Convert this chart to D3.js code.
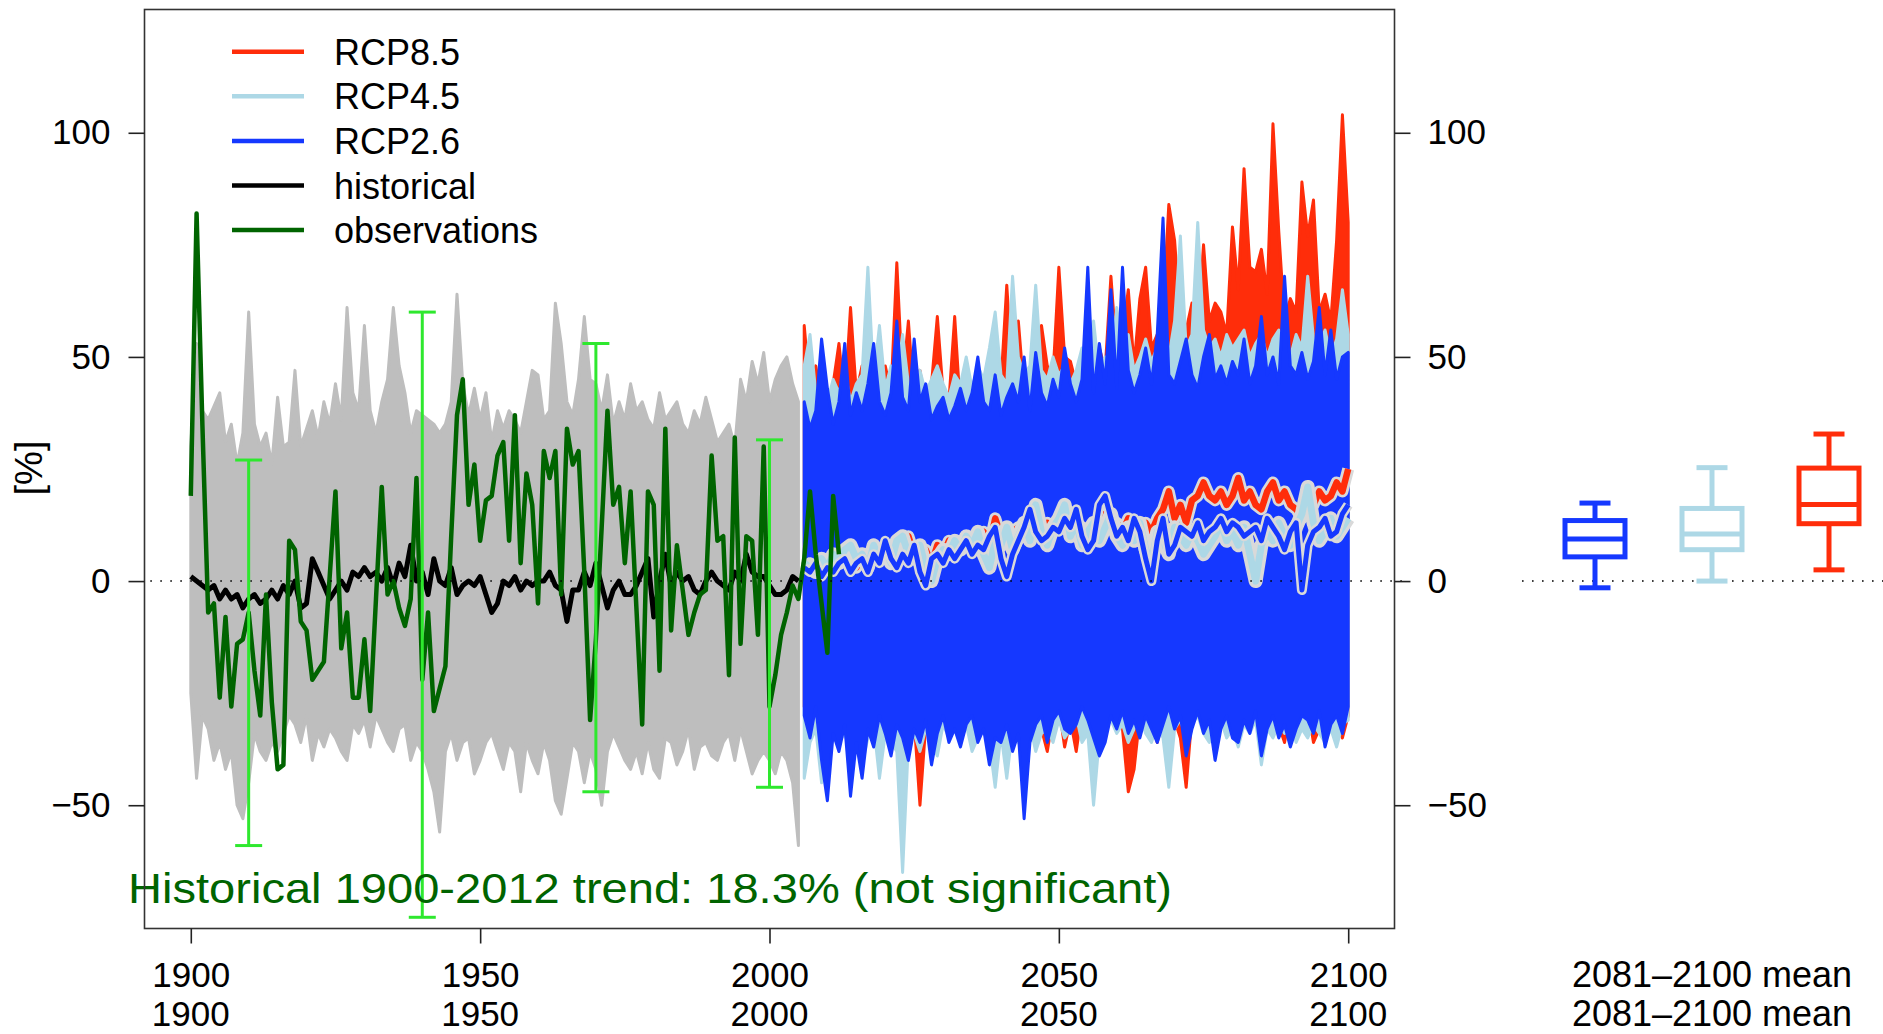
<!DOCTYPE html>
<html><head><meta charset="utf-8">
<script src="https://cdn.jsdelivr.net/npm/d3@7"></script>
<style>
body{margin:0;background:#fff}
svg{display:block}
text{font-family:"Liberation Sans",Arial,Helvetica,sans-serif}
</style>
</head><body>
<svg id="chart" width="1883" height="1034"></svg>
<script>
// ---------------- DATA ----------------
const histStart = 1900;   // historical ensemble 1900-2005
const histMax = [30,53,38,36,39,42,31,35,26,33, 60,35,30,33,26,41,30,31,47,30, 34,38,32,40,35,44,36,61,42,38,
  57,38,33,40,45,61,48,42,33,38, 37,36,35,33,35,40,64,44,37,43, 36,42,31,38,34,38,36,33,40,47,
  46,36,38,62,53,40,37,45,59,45, 44,38,46,35,40,36,44,38,40,36, 34,42,36,38,40,35,33,38,35,41,
  36,31,33,35,30,45,40,49,44,51, 40,45,48,50,44,40];
const histMin = [-25,-44,-30,-33,-40,-36,-42,-38,-50,-53, -45,-34,-38,-40,-36,-38,-34,-30,-32,-36,
  -30,-40,-34,-37,-33,-35,-38,-40,-32,-34, -31,-37,-30,-33,-36,-38,-33,-32,-40,-36,
  -38,-42,-47,-56,-38,-34,-40,-36,-35,-43, -40,-36,-34,-38,-42,-36,-38,-47,-36,-40,
  -43,-36,-40,-49,-52,-44,-36,-38,-45,-38, -42,-50,-38,-34,-37,-40,-42,-38,-43,-36,
  -42,-44,-35,-36,-41,-38,-33,-42,-37,-36, -39,-40,-36,-34,-40,-33,-38,-43,-40,-38, -40,-43,-38,-40,-45,-59];
const histMean = [1,0,-1,-2,-1,-4,-2,-4,-3,-6, -4,-3,-5,-4,-2,-4,-1,-3,0,-6, -5,5,2,-1,-4,-2,0,-2,2,1,
  3,1,2,0,3,-1,4,1,8,0, 2,-3,5,0,-1,3,-3,-1,0,-1, 1,-3,-7,-5,0,-1,1,-2,0,-1,
  0,0,2,-1,-2,-9,-2,-2,2,-1, 4,-1,-6,-2,0,-3,-3,-1,2,5, -8,0,6,-1,2,0,1,-2,-3,0,
  2,0,-1,-2,2,0,6,2,1,1, -1,-3,-3,-2,1,0];

const obsStart = 1900;    // observations 1900-2012
const obsValues = [19,82,35,-7,-5,-26,-8,-28,-14,-13, -7,-20,-30,-3,-27,-42,-41,9,7,-9,
  -11,-22,-20,-18,1,20,-15,-7,-26,-26, -13,-29,-4,21,-3,0,-6,-10,-4,23,
  -22,-7,-29,-24,-19,10,37,45,17,26, 9,18,19,28,31,9,37,4,24,17,
  -5,29,23,29,-3,34,26,29,2,-31, -13,12,38,17,21,4,20,-6,-32,20,
  17,-20,34,-11,8,-2,-12,-7,-3,-2, 28,9,10,-21,32,-14,10,9,-12,30,
  -28,-21,-12,-7,-1,-4,5,20,6,-5, -16,19,6];

const errYears = [1910, 1940, 1970, 2000];
const errLow = [-59, -75, -47, -46];
const errHigh = [27, 60, 53, 31.5];

const projStart = 2006;   // scenario projections 2006-2100
const rcp85Max = [57,42,48,40, 36,44,53,40,61,42,48,38,45,40, 48,42,71,44,58,40,47,38,44,59,
  42,40,59,38,45,40,44,43,46,52, 44,66,45,58,42,47,44,57,48,46, 70,50,49,44,46,48,45,52,47,68,
  50,55,65,48,63,70,52,55,60,84, 76,58,56,62,55,75,58,62,60,55, 79,65,92,70,69,74,64,102,78,58,
  63,60,89,77,85,60,64,58,76,104, 80];
const rcp85Min = [-28,-30,-26,-33, -30,-35,-30,-28,-33,-30,-32,-29,-31,-27, -30,-33,-28,-30,-35,-31,-50,-32,-30,-28,
  -31,-33,-29,-30,-28,-31,-29,-30,-31,-28, -30,-27,-32,-29,-31,-28,-30,-33,-38,-30, -28,-37,-31,-38,-29,-30,-32,-28,-31,-29,
  -30,-33,-47,-42,-30,-32,-29,-36,-30,-28, -31,-35,-46,-30,-28,-31,-29,-32,-30,-27, -30,-29,-31,-28,-30,-31,-28,-30,-32,-36,
  -29,-30,-31,-28,-36,-33,-30,-29,-31,-35, -30];
const rcp45Max = [48,55,42,44, 40,45,42,47,40,44,46,70,45,57, 43,48,45,55,44,40,47,42,45,48,
  44,41,46,44,50,43,48,45,52,60, 46,44,68,50,46,48,66,47,45,50, 46,48,44,47,52,50,58,46,50,48,
  61,52,55,47,50,54,49,52,56,50, 58,77,52,55,80,56,52,54,50,55, 52,54,56,50,53,55,50,54,56,52,
  50,55,52,68,54,52,56,50,54,65, 55];
const rcp45Min = [-44,-36,-33,-45, -35,-32,-36,-34,-38,-33,-41,-35,-32,-44, -34,-36,-38,-65,-36,-34,-38,-33,-36,-39,
  -32,-35,-33,-36,-32,-38,-35,-33,-36,-46, -34,-44,-33,-36,-35,-32,-38,-34,-33,-36, -31,-35,-33,-30,-36,-34,-50,-35,-33,-31,
  -34,-32,-36,-33,-30,-34,-36,-32,-35,-46, -33,-31,-35,-32,-30,-34,-36,-33,-31,-35, -33,-37,-32,-34,-31,-41,-33,-35,-32,-34,
  -31,-36,-33,-35,-32,-34,-36,-33,-37,-32, -31];
const rcp26Max = [40,34,38,54, 43,35,40,53,37,42,38,44,53,40, 37,42,58,41,38,54,40,44,36,39,
  41,36,39,43,38,42,50,40,38,46, 37,41,44,40,50,38,51,42,39,45, 41,52,44,40,45,70,42,53,44,65,
  43,70,47,42,46,52,44,55,81,46, 44,49,54,46,43,50,55,45,48,44, 49,46,54,44,48,59,46,50,44,68,
  48,46,51,45,49,61,46,56,45,50, 51];
const rcp26Min = [-30,-35,-28,-40, -49,-34,-38,-32,-48,-36,-44,-33,-37,-30, -34,-39,-32,-35,-40,-33,-36,-31,-41,-34,
  -30,-36,-33,-37,-32,-30,-36,-33,-41,-35, -36,-32,-38,-34,-53,-36,-32,-30,-36,-31, -29,-33,-34,-32,-28,-31,-35,-39,-36,-30,
  -33,-29,-34,-31,-35,-30,-33,-36,-32,-28, -33,-30,-39,-33,-29,-34,-31,-40,-33,-30, -35,-36,-31,-34,-29,-39,-33,-30,-35,-32,
  -37,-33,-30,-31,-34,-29,-37,-32,-30,-34, -28];
const rcp85Mean = [3,4,2,5, 3,5,4,7,5,3,6,4,7,5, 8,6,5,7,10,6,5,7,4,8, 6,9,7,8,10,7,9,11,8,14,
  10,9,11,12,10,13,11,10,13,11, 12,14,11,13,12,10,13,12,15,12, 13,11,14,12,10,13,11,14,16,20,
  14,17,13,18,19,22,19,18,20,17, 19,23,18,20,17,16,20,22,18,20, 17,16,14,18,17,20,18,19,22,20, 25];
const rcp45Mean = [4,3,2,5, 3,6,4,7,8,5,6,3,8,5, 7,4,9,10,6,5,8,3,0,5, 7,6,9,7,10,8,11,6,3,9,
  8,12,7,10,13,9,17,11,8,12, 14,17,10,13,8,11,13,9,12,15, 10,8,12,9,13,7,4,11,9,6,
  12,10,8,11,9,6,8,10,13,9, 11,8,12,6,0,8,11,9,13,10, 8,12,15,21,13,9,11,14,10,12, 14];
const rcp26Mean = [3,2,4,1, 3,2,4,5,2,4,5,2,6,4, 9,5,3,6,4,8,2,-1,5,6, 4,7,5,7,9,6,8,7,10,12,
  5,1,6,9,12,16,11,9,10,12, 11,14,12,16,10,7,9,17,19,14, 10,12,9,14,11,5,0,9,14,6,
  8,12,11,10,13,9,11,12,14,11, 13,12,10,11,12,9,14,12,10,7, 11,13,-2,8,11,12,14,10,11,15, 17];

// 2081-2100 mean box plots
const scenarios = ["RCP2.6", "RCP4.5", "RCP8.5"];
const boxLow  = [-1.5, 0, 2.5];
const boxQ1   = [5.4, 7.0, 12.8];
const boxMed  = [9.4, 10.5, 17.1];
const boxQ3   = [13.5, 16.2, 25.2];
const boxHigh = [17.4, 25.3, 32.8];

const xTicks = [1900, 1950, 2000, 2050, 2100];
const yTicks = [-50, 0, 50, 100];
const legendLabels = ["RCP8.5", "RCP4.5", "RCP2.6", "historical", "observations"];
const trendLabel = "Historical 1900-2012 trend: 18.3% (not significant)";
const boxLabel = "2081\u20132100 mean";

// ---------------- STYLE ----------------
const C = {
  red: "#ff2d0a", lightblue: "#add8e6", blue: "#1538ff", gray: "#bebebe",
  black: "#000", obs: "#006400", err: "#2ee82e", halo: "#d9d9d9"
};
const legendColors = [C.red, C.lightblue, C.blue, C.black, C.obs];
const scenColors = {"RCP2.6": C.blue, "RCP4.5": C.lightblue, "RCP8.5": C.red};

const svg = d3.select("#chart");
const x = d3.scaleLinear().domain([1892, 2108]).range([144.5, 1394.5]);
const y = d3.scaleLinear().domain([-77.5, 127.5]).range([928.5, 9.5]);

svg.append("defs").append("clipPath").attr("id", "pc")
  .append("rect").attr("x", 144.5).attr("y", 9.5).attr("width", 1250).attr("height", 919);

const plot = svg.append("g").attr("clip-path", "url(#pc)");

function toPts(start, arr) { return arr.map((v, i) => ({yr: start + i, v})); }
const line = d3.line().x(d => x(d.yr)).y(d => y(d.v)).curve(d3.curveLinear);

function envelope(start, hi, lo, color) {
  const data = hi.map((v, i) => ({yr: start + i, hi: v, lo: lo[i]}));
  const area = d3.area().x(d => x(d.yr)).y0(d => y(d.lo)).y1(d => y(d.hi));
  plot.append("path").datum(data).attr("d", area)
    .attr("fill", color).attr("stroke", color).attr("stroke-width", 3)
    .attr("stroke-linejoin", "round");
}

envelope(histStart, histMax, histMin, C.gray);
envelope(projStart, rcp85Max, rcp85Min, C.red);
envelope(projStart, rcp45Max, rcp45Min, C.lightblue);
envelope(projStart, rcp26Max, rcp26Min, C.blue);

// zero reference line
svg.append("line").attr("x1", x(1893)).attr("x2", x(2110)).attr("y1", y(0)).attr("y2", y(0))
  .attr("stroke", "#000").attr("stroke-width", 1.6).attr("stroke-dasharray", "1.6,8.4");

// historical ensemble mean
plot.append("path").datum(toPts(histStart, histMean)).attr("d", line)
  .attr("fill", "none").attr("stroke", C.black).attr("stroke-width", 5).attr("stroke-linejoin", "round");

// scenario means with halos
[[rcp85Mean, C.red, 12, 6.5], [rcp45Mean, C.lightblue, 14, 7], [rcp26Mean, C.blue, 10, 5]].forEach(([arr, col, hw, cw]) => {
  const pts = toPts(projStart, arr);
  plot.append("path").datum(pts).attr("d", line).attr("fill", "none")
    .attr("stroke", C.halo).attr("stroke-width", hw).attr("stroke-linejoin", "round");
  plot.append("path").datum(pts).attr("d", line).attr("fill", "none")
    .attr("stroke", col).attr("stroke-width", cw).attr("stroke-linejoin", "round");
});

// observations
plot.append("path").datum(toPts(obsStart, obsValues)).attr("d", line)
  .attr("fill", "none").attr("stroke", C.obs).attr("stroke-width", 4.5).attr("stroke-linejoin", "round");

// error bars
const eg = svg.append("g").attr("stroke", C.err).attr("stroke-width", 3);
errYears.forEach((yr, i) => {
  eg.append("line").attr("x1", x(yr)).attr("x2", x(yr)).attr("y1", y(errLow[i])).attr("y2", y(errHigh[i]));
  [errLow[i], errHigh[i]].forEach(v => eg.append("line")
    .attr("x1", x(yr) - 13.5).attr("x2", x(yr) + 13.5).attr("y1", y(v)).attr("y2", y(v)));
});

// trend label
svg.append("text").attr("x", 128).attr("y", 903).attr("font-size", 43).attr("fill", C.obs)
  .attr("textLength", 1044).attr("lengthAdjust", "spacingAndGlyphs").text(trendLabel);

// plot frame
svg.append("rect").attr("x", 144.5).attr("y", 9.5).attr("width", 1250).attr("height", 919)
  .attr("fill", "none").attr("stroke", "#333").attr("stroke-width", 1.6);

// axes
function styleAxis(g) {
  g.select(".domain").remove();
  g.selectAll(".tick line").attr("stroke", "#222").attr("stroke-width", 1.6);
  g.selectAll(".tick text").attr("font-size", 35).attr("fill", "#000")
    .style("font-family", '"Liberation Sans",Arial,sans-serif');
}
svg.append("g").attr("transform", "translate(144.5,0)")
  .call(d3.axisLeft(y).tickValues(yTicks).tickSize(16).tickPadding(18)).call(styleAxis);
svg.append("g").attr("transform", "translate(1394.5,0)")
  .call(d3.axisRight(y).tickValues(yTicks).tickSize(16).tickPadding(17)).call(styleAxis);
svg.append("g").attr("transform", "translate(0,928.5)")
  .call(d3.axisBottom(x).tickValues(xTicks).tickFormat(d3.format("d")).tickSize(15).tickPadding(19)).call(styleAxis);

// duplicated lower row of year labels near the bottom edge, as in the source
svg.append("g").selectAll("text").data(xTicks).join("text")
  .attr("x", d => x(d)).attr("y", 1026).attr("text-anchor", "middle")
  .attr("font-size", 35).attr("fill", "#000").text(d => d);

// y label
svg.append("text").attr("transform", "translate(42,468) rotate(-90)")
  .attr("text-anchor", "middle").attr("font-size", 38).attr("fill", "#000").text("[%]");

// legend
const lg = svg.append("g");
legendLabels.forEach((lab, i) => {
  const ly = 51.7 + i * 44.6;
  lg.append("line").attr("x1", 232).attr("x2", 304).attr("y1", ly).attr("y2", ly)
    .attr("stroke", legendColors[i]).attr("stroke-width", 4.5);
  lg.append("text").attr("x", 334).attr("y", ly + 13).attr("font-size", 36).attr("fill", "#000").text(lab);
});

// right panel: box plots of 2081-2100 means
svg.append("line").attr("x1", 1522).attr("x2", 1883).attr("y1", y(0)).attr("y2", y(0))
  .attr("stroke", "#000").attr("stroke-width", 1.6).attr("stroke-dasharray", "1.6,8.4");
const bx = d3.scalePoint().domain(scenarios).range([1595, 1829]);
const bg = svg.append("g").attr("fill", "none").attr("stroke-width", 5);
scenarios.forEach((s, i) => {
  const cx = bx(s), col = scenColors[s];
  const g = bg.append("g").attr("stroke", col);
  g.append("line").attr("x1", cx).attr("x2", cx).attr("y1", y(boxHigh[i])).attr("y2", y(boxQ3[i]));
  g.append("line").attr("x1", cx).attr("x2", cx).attr("y1", y(boxQ1[i])).attr("y2", y(boxLow[i]));
  [boxHigh[i], boxLow[i]].forEach(v => g.append("line").attr("x1", cx - 15.5).attr("x2", cx + 15.5)
    .attr("y1", y(v)).attr("y2", y(v)));
  g.append("rect").attr("x", cx - 30).attr("width", 60)
    .attr("y", y(boxQ3[i])).attr("height", y(boxQ1[i]) - y(boxQ3[i])).attr("fill", "#fff");
  g.append("line").attr("x1", cx - 30).attr("x2", cx + 30).attr("y1", y(boxMed[i])).attr("y2", y(boxMed[i]));
});
svg.append("text").attr("x", bx("RCP4.5")).attr("y", 987).attr("text-anchor", "middle")
  .attr("font-size", 36).attr("fill", "#000").text(boxLabel);
svg.append("text").attr("x", bx("RCP4.5")).attr("y", 1026).attr("text-anchor", "middle")
  .attr("font-size", 36).attr("fill", "#000").text(boxLabel);
</script>
</body></html>
